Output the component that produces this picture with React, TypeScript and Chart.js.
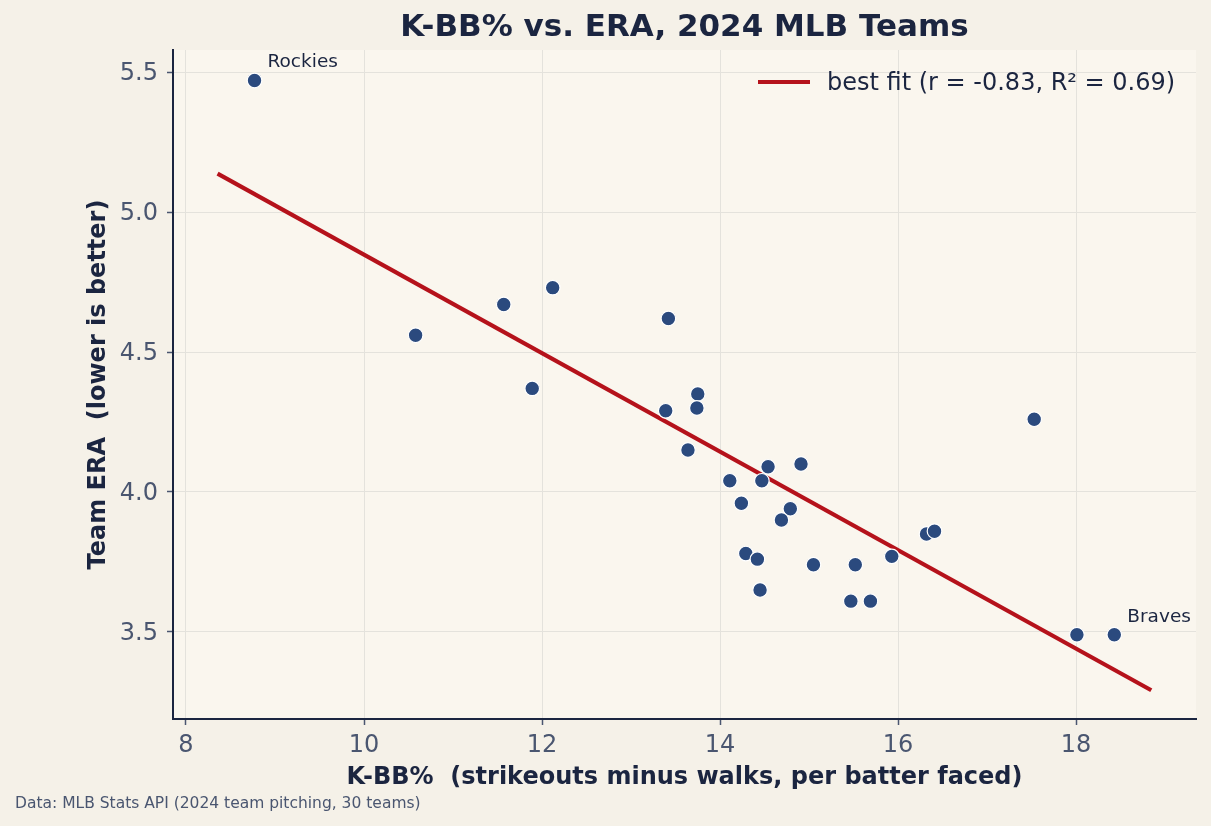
import React, { useEffect, useRef } from "react";
import { Chart, registerables } from "chart.js";

Chart.register(...registerables);

// 2024 team pitching: K-BB% (x) and team ERA (y), one entry per club
const teams = [
  "Rockies", "Team 2", "Team 3", "Team 4", "Team 5", "Team 6", "Team 7", "Team 8", "Team 9", "Team 10",
  "Team 11", "Team 12", "Team 13", "Team 14", "Team 15", "Team 16", "Team 17", "Team 18", "Team 19", "Team 20",
  "Team 21", "Team 22", "Team 23", "Team 24", "Team 25", "Team 26", "Team 27", "Team 28", "Team 29", "Braves",
];
const kbbPct = [
  8.77, 10.58, 11.57, 12.12, 11.89, 13.42, 13.39, 13.75, 13.74, 13.64,
  14.11, 14.24, 14.47, 14.54, 14.91, 14.79, 14.69, 14.29, 14.42, 14.45,
  15.05, 15.52, 15.47, 15.69, 15.93, 16.32, 16.41, 17.53, 18.01, 18.43,
];
const teamEra = [
  5.47, 4.56, 4.67, 4.73, 4.37, 4.62, 4.29, 4.35, 4.30, 4.15,
  4.04, 3.96, 4.04, 4.09, 4.10, 3.94, 3.90, 3.78, 3.76, 3.65,
  3.74, 3.74, 3.61, 3.61, 3.77, 3.85, 3.86, 4.26, 3.49, 3.49,
];
const labeledTeams = ["Rockies", "Braves"];

const xTicks = [8, 10, 12, 14, 16, 18];
const yTicks = [3.5, 4.0, 4.5, 5.0, 5.5];

const titleText = "K-BB% vs. ERA, 2024 MLB Teams";
const xTitle = "K-BB%  (strikeouts minus walks, per batter faced)";
const yTitle = "Team ERA  (lower is better)";
const fitLabel = "best fit (r = -0.83, R\u00b2 = 0.69)";
const sourceNote = "Data: MLB Stats API (2024 team pitching, 30 teams)";

const FONT = "'DejaVu Sans', sans-serif";
const NAVY = "#1b2540";
const SLATE = "#4a5670";
const POINT = "#2b4a7e";
const FIT = "#b5121b";
const PAGE_BG = "#f5f1e8";
const PLOT_BG = "#faf6ee";
const GRID = "#e4e2dc";

// ordinary least squares over the team points
function leastSquares(xs: number[], ys: number[]) {
  const n = xs.length;
  const mx = xs.reduce((a, b) => a + b, 0) / n;
  const my = ys.reduce((a, b) => a + b, 0) / n;
  let sxy = 0;
  let sxx = 0;
  for (let i = 0; i < n; i++) {
    sxy += (xs[i] - mx) * (ys[i] - my);
    sxx += (xs[i] - mx) * (xs[i] - mx);
  }
  const slope = sxy / sxx;
  return { slope, intercept: my - slope * mx };
}

export default function App() {
  const canvasRef = useRef<HTMLCanvasElement | null>(null);

  useEffect(() => {
    const canvas = canvasRef.current;
    if (!canvas) return;

    const { slope, intercept } = leastSquares(kbbPct, teamEra);
    const xMin = Math.min(...kbbPct);
    const xMax = Math.max(...kbbPct);
    const ext = (xMax - xMin) * 0.043;
    const fitXs = [xMin - ext, xMax + ext];
    const fitPoints = fitXs.map((x) => ({ x, y: intercept + slope * x }));

    const decorations = {
      id: "decorations",
      beforeDraw(chart: any) {
        const { ctx, chartArea } = chart;
        ctx.save();
        ctx.fillStyle = PAGE_BG;
        ctx.fillRect(0, 0, chart.width, chart.height);
        ctx.fillStyle = PLOT_BG;
        ctx.fillRect(chartArea.left, chartArea.top, chartArea.right - chartArea.left, chartArea.bottom - chartArea.top);
        ctx.restore();
      },
      afterDraw(chart: any) {
        const { ctx, chartArea, scales } = chart;
        const cx = (chartArea.left + chartArea.right) / 2;
        const cy = (chartArea.top + chartArea.bottom) / 2;
        ctx.save();

        // title
        ctx.fillStyle = NAVY;
        ctx.font = `bold 31px ${FONT}`;
        ctx.textAlign = "center";
        ctx.textBaseline = "middle";
        ctx.fillText(titleText, cx, 28);

        // axis titles
        ctx.font = `bold 24px ${FONT}`;
        ctx.fillText(xTitle, cx, 778);
        ctx.save();
        ctx.translate(99, cy);
        ctx.rotate(-Math.PI / 2);
        ctx.fillText(yTitle, 0, 0);
        ctx.restore();

        // legend
        ctx.strokeStyle = FIT;
        ctx.lineWidth = 4;
        ctx.beginPath();
        ctx.moveTo(758, 82);
        ctx.lineTo(810, 82);
        ctx.stroke();
        ctx.fillStyle = NAVY;
        ctx.font = `24px ${FONT}`;
        ctx.textAlign = "left";
        ctx.fillText(fitLabel, 827, 84);

        // team labels
        ctx.font = `18.5px ${FONT}`;
        labeledTeams.forEach((name) => {
          const i = teams.indexOf(name);
          const px = scales.x.getPixelForValue(kbbPct[i]);
          const py = scales.y.getPixelForValue(teamEra[i]);
          ctx.fillText(name, px + 13, py - 18);
        });

        // source note
        ctx.fillStyle = SLATE;
        ctx.font = `15.5px ${FONT}`;
        ctx.fillText(sourceNote, 15, 804);
        ctx.restore();
      },
    };

    const tickFont = { family: FONT, size: 24 };

    const chart = new Chart(canvas, {
      type: "scatter",
      data: {
        datasets: [
          {
            label: "teams",
            data: kbbPct.map((x, i) => ({ x, y: teamEra[i] })),
            pointRadius: 7.3,
            pointHoverRadius: 7.3,
            backgroundColor: POINT,
            borderColor: "#ffffff",
            borderWidth: 1.2,
            order: 0,
          },
          {
            type: "line",
            label: fitLabel,
            data: fitPoints,
            showLine: true,
            borderColor: FIT,
            borderWidth: 4.2,
            pointRadius: 0,
            fill: false,
            order: 1,
          } as any,
        ],
      },
      options: {
        responsive: false,
        animation: false,
        layout: { padding: { top: 50, right: 15, left: 0, bottom: 0 } },
        plugins: {
          legend: { display: false },
          title: { display: false },
          tooltip: { enabled: false },
        },
        scales: {
          x: {
            type: "linear",
            min: 7.854,
            max: 19.348,
            afterBuildTicks: (scale: any) => {
              scale.ticks = xTicks.map((v) => ({ value: v }));
            },
            afterFit: (scale: any) => {
              scale.height = 107;
            },
            ticks: {
              color: SLATE,
              font: tickFont,
              padding: 6,
              maxRotation: 0,
              callback: (v: any) => String(v),
            },
            grid: { color: GRID, lineWidth: 1, tickColor: SLATE, tickLength: 6, tickWidth: 1.5 },
            border: { display: true, color: NAVY, width: 2 },
          },
          y: {
            type: "linear",
            min: 3.189,
            max: 5.579,
            afterBuildTicks: (scale: any) => {
              scale.ticks = yTicks.map((v) => ({ value: v }));
            },
            afterFit: (scale: any) => {
              scale.width = 173;
            },
            ticks: {
              color: SLATE,
              font: tickFont,
              padding: 9,
              labelOffset: 2,
              callback: (v: any) => Number(v).toFixed(1),
            },
            grid: { color: GRID, lineWidth: 1, tickColor: SLATE, tickLength: 6, tickWidth: 1.5 },
            border: { display: true, color: NAVY, width: 2 },
          },
        },
      },
      plugins: [decorations],
    });

    return () => chart.destroy();
  }, []);

  return (
    <div style={{ position: "fixed", left: 0, top: 0, width: 1211, height: 826, background: PAGE_BG }}>
      <canvas ref={canvasRef} width={1211} height={826} style={{ display: "block" }} />
    </div>
  );
}
